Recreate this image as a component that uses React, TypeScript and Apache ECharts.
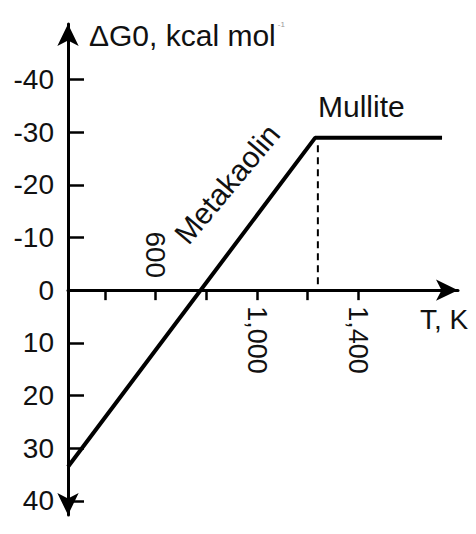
import React, { useEffect, useRef } from "react";
import * as echarts from "echarts";

// Gibbs free energy path (T in K, ΔG0 in kcal/mol)
const temperatureK = [254, 1229, 1730];
const deltaG = [33.5, -28.9, -28.9];
// Dashed marker at metakaolin -> mullite transition
const transitionT = [1240, 1240];
const transitionG = [-27.5, 0];
// Axis ticks / labels
const yTicks = [-40, -30, -20, -10, 0, 10, 20, 30, 40];
const xTicks = [400, 600, 800, 1000, 1200, 1400];
const xLabelsBelow = [1000, 1400];
const xLabelsAbove = [600];
const yName = "ΔG0, kcal mol";
const yNameSup = "-1";
const xName = "T, K";
const phaseLabels = ["Metakaolin", "Mullite"];

const fmt = (v: number) => String(v).replace(/\B(?=(\d{3})+(?!\d))/g, ",");

export default function App() {
  const ref = useRef<HTMLDivElement>(null);
  useEffect(() => {
    const chart = echarts.init(ref.current!, null, { renderer: "svg" });
    const font = "'Liberation Sans', Arial, Helvetica, sans-serif";
    const xMin = 254;
    const xMax = 1793;
    const yMin = -50.5;
    const yMax = 42.66;
    const gTop = 24;
    const gBottom = 19;
    const H = 534;
    const plotH = H - gTop - gBottom;
    const zeroY = gTop + ((0 - yMin) / (yMax - yMin)) * plotH;
    const bottomY = H - gBottom;
    chart.setOption({
      animation: false,
      grid: { left: 68, right: 18, top: gTop, bottom: gBottom, containLabel: false, outerBoundsMode: "none" },
      xAxis: [
        {
          type: "value",
          min: xMin,
          max: xMax,
          position: "bottom",
          offset: zeroY - bottomY,
          axisLine: {
            onZero: false,
            symbol: ["none", "arrow"],
            symbolSize: [16, 22],
            lineStyle: { color: "#000", width: 3 },
          },
          axisTick: { show: true, customValues: xTicks, length: 10, lineStyle: { color: "#000", width: 2.5 } },
          axisLabel: {
            customValues: xLabelsBelow,
            rotate: -90,
            margin: 16,
            fontSize: 27,
            color: "#111",
            fontFamily: font,
            formatter: (v: number) => fmt(v),
          },
          splitLine: { show: false },
        },
        {
          type: "value",
          min: xMin,
          max: xMax,
          position: "top",
          offset: -(zeroY - gTop),
          axisLine: { show: false, onZero: false },
          axisTick: { show: false },
          axisLabel: {
            customValues: xLabelsAbove,
            rotate: 90,
            margin: 12,
            fontSize: 28,
            color: "#111",
            fontFamily: font,
            formatter: (v: number) => fmt(v),
          },
          splitLine: { show: false },
        },
      ],
      yAxis: {
        type: "value",
        inverse: true,
        min: yMin,
        max: yMax,
        axisLine: {
          onZero: false,
          symbol: ["arrow", "arrow"],
          symbolSize: [16, 22],
          lineStyle: { color: "#000", width: 3 },
        },
        axisTick: { show: true, inside: true, customValues: yTicks, length: 16, lineStyle: { color: "#000", width: 2.5 } },
        axisLabel: { customValues: yTicks, margin: 14, fontSize: 28, color: "#111", fontFamily: font },
        splitLine: { show: false },
      },
      series: [
        {
          type: "line",
          xAxisIndex: 0,
          yAxisIndex: 0,
          data: temperatureK.map((t, i) => [t, deltaG[i]]),
          symbol: "none",
          clip: false,
          lineStyle: { color: "#000", width: 4 },
        },
        {
          type: "line",
          xAxisIndex: 0,
          yAxisIndex: 0,
          data: transitionT.map((t, i) => [t, transitionG[i]]),
          symbol: "none",
          lineStyle: { color: "#000", width: 2, type: [7, 5] },
        },
      ],
      graphic: [
        {
          type: "text",
          x: 89,
          y: 35,
          style: {
            text: yName + "{sup|" + yNameSup + "}",
            fill: "#111",
            fontSize: 30,
            fontFamily: font,
            align: "left",
            verticalAlign: "middle",
            textAlign: "left",
            textVerticalAlign: "middle",
            rich: { sup: { fontSize: 8, fill: "#999", verticalAlign: "top", padding: [0, 0, 14, 2] } },
          },
        },
        {
          type: "text",
          x: 420,
          y: 319,
          style: {
            text: xName,
            fill: "#111",
            fontSize: 28,
            fontFamily: font,
            align: "left",
            verticalAlign: "middle",
            textAlign: "left",
            textVerticalAlign: "middle",
          },
        },
        {
          type: "text",
          x: 227,
          y: 184,
          rotation: (50 * Math.PI) / 180,
          style: {
            text: phaseLabels[0],
            fill: "#111",
            fontSize: 30,
            fontFamily: font,
            align: "center",
            verticalAlign: "middle",
            textAlign: "center",
            textVerticalAlign: "middle",
          },
        },
        {
          type: "text",
          x: 318,
          y: 106,
          style: {
            text: phaseLabels[1],
            fill: "#111",
            fontSize: 30,
            fontFamily: font,
            align: "left",
            verticalAlign: "middle",
            textAlign: "left",
            textVerticalAlign: "middle",
          },
        },
      ],
    });
    return () => chart.dispose();
  }, []);
  return (
    <div
      ref={ref}
      style={{ position: "fixed", left: 0, top: 0, width: 476, height: 534, background: "#fff" }}
    />
  );
}
